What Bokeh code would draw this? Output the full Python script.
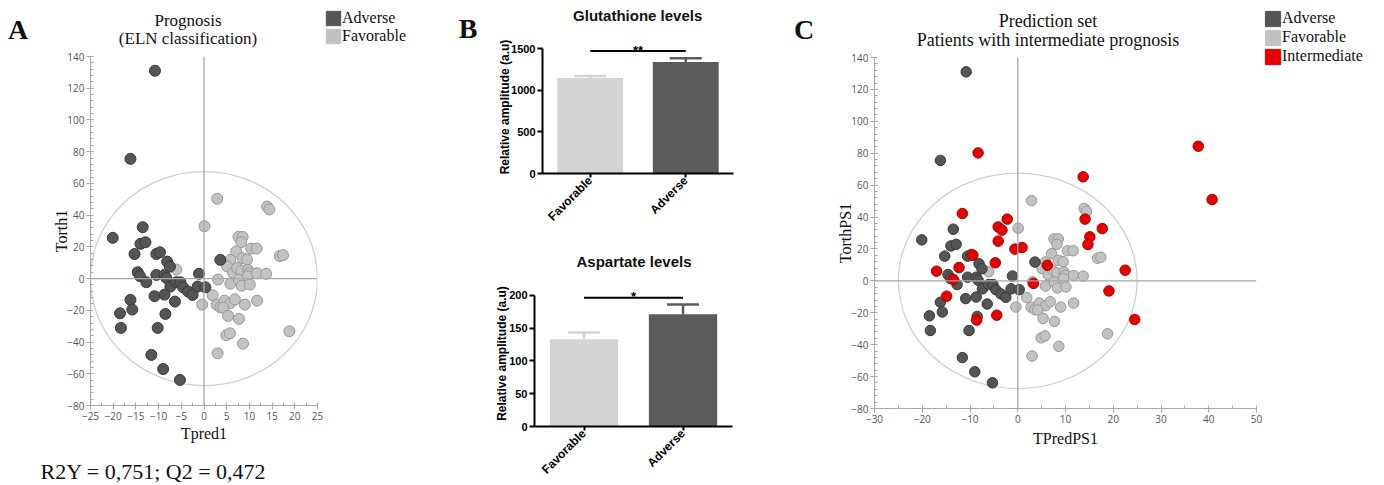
import math
from bokeh.plotting import figure
from bokeh.models import (ColumnDataSource, Span, Label, Legend, LegendItem,
                          SingleIntervalTicker, FixedTicker, Range1d, FactorRange)
from bokeh.layouts import row, column
from bokeh.embed import file_html
from bokeh.resources import INLINE
from bokeh.core.properties import value

# ---------------- data ----------------
# OPLS-DA scores (training set, shared by panels A and C)
adverse_x = [-20.1, -13.5, -14.0, -12.9, -15.3, -10.5, -9.7, -14.6, -14.1, -12.7,
             -10.5, -8.7, -8.3, -8.1, -7.5, -7.4, -6.1, -5.2, -4.6, -3.5,
             -2.5, -1.1, -1.4, 0.3, 3.6, -10.9, -8.7, -6.4, -16.2, -15.8,
             -18.5, -18.3, -10.2, -8.5, -11.6, -9.0, -5.3, -10.8, -16.2]
adverse_y = [25.7, 32.4, 21.9, 22.9, 15.5, 15.5, 16.6, 4.0, 1.5, -2.3,
             2.3, 2.3, 0.4, 10.7, 7.6, -5.0, -2.3, -2.3, -5.5, -8.2,
             -10.3, 3.0, -5.0, -5.5, 11.8, -11.1, -10.1, -14.5, -13.4, -19.5,
             -21.9, -31.1, -31.1, -22.3, -48.1, -57.0, -63.9, 131.0, 75.5]
favorable_x = [2.9, 0.1, 13.9, 14.4, 7.6, 8.5, 8.2, 7.1, 10.4, 11.6,
               16.7, 17.4, 5.8, 8.5, 9.5, 5.1, 6.4, 7.3, 8.2, 9.7,
               9.9, 9.6, 11.7, 13.7, 3.1, 5.8, 7.6, 8.3, 10.1, -6.1,
               1.9, -0.4, 2.8, 3.6, 4.5, 5.8, 6.8, 9.0, 11.7, 4.2,
               5.3, 7.7, 4.9, 5.7, 8.6, 3.0, 18.8]
favorable_y = [50.3, 33.0, 45.4, 43.6, 26.3, 26.3, 22.9, 17.1, 18.9, 18.9,
               14.2, 14.8, 11.8, 12.9, 12.0, 7.7, 3.7, 6.7, 5.0, 5.5,
               3.4, 1.5, 3.4, 3.0, -0.6, -3.2, -0.7, -4.5, -3.8, 5.7,
               -10.5, -16.4, -16.5, -18.1, -13.9, -15.6, -13.1, -16.4, -13.9, -18.3,
               -23.5, -25.4, -35.7, -34.5, -41.0, -47.1, -33.2]
# prediction set (intermediate prognosis)
intermediate_x = [-8.3, 13.7, 37.8, 40.7, -11.6, -2.2, -4.1, -3.3, -4.1, -0.6,
                  0.9, -9.4, -4.7, -12.3, -17.0, -13.5, -14.9, -4.4, -8.6, 6.2,
                  3.3, 14.1, 17.7, 15.1, 14.7, 22.5, 19.1, 24.5]
intermediate_y = [80.2, 65.2, 84.4, 51.0, 42.2, 38.7, 33.8, 31.8, 24.9, 19.9,
                  20.9, 16.1, 11.3, 8.4, 6.1, 0.9, -9.6, -21.5, -24.6, 9.8,
                  -1.6, 38.7, 32.8, 27.6, 22.8, 6.7, -6.3, -24.2]
# Hotelling T2 ellipse semi-axes
t2_semi_axes = [25.0, 67.5]

# metabolite levels
groups = ["Favorable", "Adverse"]
glut_mean = [1147, 1339]
glut_sem = [24, 45]
asp_mean = [133, 171]
asp_sem = [10, 15]
glut_ticks = [0, 500, 1000, 1500]
asp_ticks = [0, 50, 100, 150, 200]
glut_sig = ["**"]
asp_sig = ["*"]
glut_sig_level = [1470]
asp_sig_level = [196]

r2y_text = "R2Y = 0,751; Q2 = 0,472"

# ---------------- style ----------------
SERIF = "Liberation Serif"
SANS = "Liberation Sans"
TICKF = "Open Sans"
C_ADV, C_ADV_L = "#555555", "#3a3a3a"
C_FAV, C_FAV_L = "#c2c2c2", "#989898"
C_INT, C_INT_L = "#e60000", "#b00000"
BAR_COLORS = ["#d4d4d4", "#5b5b5b"]


def base_fig(width, height, left, right, top, bottom, **kw):
    p = figure(width=width, height=height, output_backend="svg", toolbar_location=None,
               tools="", title=None, min_border_left=left, min_border_right=right,
               min_border_top=top, min_border_bottom=bottom, frame_align=False, **kw)
    p.outline_line_color = None
    p.background_fill_color = "white"
    p.border_fill_color = "white"
    return p


def text_fig(w, h):
    # a figure whose frame is the whole canvas; data units equal pixels (y upwards)
    p = base_fig(w, h, 0, 0, 0, 0, x_range=Range1d(0, w), y_range=Range1d(0, h),
                 x_axis_type=None, y_axis_type=None)
    return p


def text_label(p, x, y, text, size, font=SERIF, style="normal", align="center"):
    # y is the wanted baseline; the rendered text sits ~0.36em lower than its anchor
    px = float(size.replace("px", ""))
    p.add_layout(Label(x=x, y=y + 0.36 * px, text=text, text_align=align,
                       text_baseline="alphabetic", text_font=font, text_font_style=style,
                       text_font_size=size, text_color="#111111"))


def square_legend(p, names, colors, loc, box):
    items = []
    for n, c in zip(names, colors):
        # legend swatch renderer, kept off-canvas
        r = p.rect(x=[-1000], y=[-1000], width=1, height=1, fill_color=c, line_color=c)
        items.append(LegendItem(label=n, renderers=[r]))
    leg = Legend(items=items, location=loc, orientation="vertical",
                 glyph_width=box, glyph_height=box, label_height=box, label_width=10,
                 label_standoff=0, spacing=0, padding=0, margin=0,
                 border_line_color=None, background_fill_alpha=0,
                 label_text_font=SERIF, label_text_font_size="16px",
                 label_text_color="#111111")
    p.add_layout(leg)


def score_fig(width, height, left, right, top, bottom, xr, x_interval, xlabel, ylabel,
              dot, xl_standoff, yl_standoff):
    p = base_fig(width, height, left, right, top, bottom,
                 x_range=Range1d(*xr), y_range=Range1d(-80, 140))
    p.xgrid.visible = False
    p.ygrid.visible = False
    p.xaxis.ticker = SingleIntervalTicker(interval=x_interval, num_minor_ticks=2)
    p.yaxis.ticker = SingleIntervalTicker(interval=20, num_minor_ticks=5)
    p.xaxis.axis_label = xlabel
    p.yaxis.axis_label = ylabel
    for ax in (p.xaxis[0], p.yaxis[0]):
        ax.axis_line_color = "#a8a8a8"
        ax.major_tick_line_color = "#a8a8a8"
        ax.minor_tick_line_color = "#a8a8a8"
        ax.major_tick_out = 4
        ax.major_tick_in = 0
        ax.minor_tick_out = 0
        ax.minor_tick_in = 3
        ax.major_label_text_font = TICKF
        ax.major_label_text_font_size = "10px"
        ax.major_label_text_color = "#555555"
        ax.major_label_standoff = 2
        ax.axis_label_text_font = SERIF
        ax.axis_label_text_font_size = "16px"
        ax.axis_label_text_font_style = "normal"
        ax.axis_label_text_color = "#111111"
    p.xaxis.axis_label_standoff = xl_standoff
    p.yaxis.axis_label_standoff = yl_standoff
    p.add_layout(Span(location=0, dimension="height", line_color="#a8a8a8", line_width=1.3))
    p.add_layout(Span(location=0, dimension="width", line_color="#a8a8a8", line_width=1.3))
    p.ellipse(x=[0], y=[0], width=[2 * t2_semi_axes[0]], height=[2 * t2_semi_axes[1]],
              fill_color=None, line_color="#cfcfcf", line_width=1.3)
    p.scatter(favorable_x, favorable_y, size=dot, fill_color=C_FAV, line_color=C_FAV_L)
    p.scatter(adverse_x, adverse_y, size=dot, fill_color=C_ADV, line_color=C_ADV_L)
    return p


def bar_fig(height, left, frame_w, frame_h, y_end, means, sems, ticks, sig, sig_level,
            yl_standoff):
    p = base_fig(300, height, left, 300 - left - frame_w, 0, height - frame_h,
                 x_range=FactorRange(*groups, range_padding=0), y_range=Range1d(0, y_end))
    p.xgrid.visible = False
    p.ygrid.visible = False
    src = ColumnDataSource(dict(g=groups, mean=means,
                                upper=[m + s for m, s in zip(means, sems)],
                                color=BAR_COLORS))
    p.vbar(x="g", top="mean", width=0.69, fill_color="color", line_color=None, source=src)
    p.segment(x0="g", y0="mean", x1="g", y1="upper", line_color="color", line_width=2.5,
              source=src)
    p.scatter(x="g", y="upper", marker="dash", size=32, line_color="color", line_width=2.5,
              source=src)
    p.segment(x0=[groups[0]], y0=sig_level, x1=[groups[1]], y1=sig_level,
              line_color="black", line_width=2)
    p.text(x=[1.0], y=sig_level, text=sig, text_align="center", text_baseline="alphabetic",
           y_offset=-1, text_font=value(SANS), text_font_style="bold", text_font_size="13px",
           text_color="black")
    yax = p.yaxis[0]
    xax = p.xaxis[0]
    yax.ticker = FixedTicker(ticks=ticks)
    yax.bounds = (0, ticks[-1])
    for ax in (xax, yax):
        ax.axis_line_width = 2
        ax.axis_line_color = "black"
        ax.major_tick_line_width = 2
        ax.major_tick_line_color = "black"
        ax.major_tick_out = 5
        ax.major_tick_in = 0
        ax.minor_tick_line_color = None
        ax.major_label_text_font = SANS
        ax.major_label_text_font_style = "bold"
        ax.major_label_text_font_size = "11px"
        ax.major_label_text_color = "black"
        ax.major_label_standoff = 2
    xax.major_label_orientation = math.pi / 4
    xax.major_label_text_font_size = "12px"
    xax.major_label_standoff = 1
    xax.major_tick_out = 4
    yax.axis_label = "Relative amplitude (a.u)"
    yax.axis_label_text_font = SANS
    yax.axis_label_text_font_style = "bold"
    yax.axis_label_text_font_size = "12px"
    yax.axis_label_text_color = "black"
    yax.axis_label_standoff = yl_standoff
    return p


# ---------------- panel A (x 0-480) ----------------
hdr_a = text_fig(480, 48)
text_label(hdr_a, 17.5, 8.7, "A", "28px", style="bold")
text_label(hdr_a, 187.5, 22, "Prognosis", "17px")
text_label(hdr_a, 187.5, 4, "(ELN classification)", "17px")
square_legend(hdr_a, ["Adverse", "Favorable"], [C_ADV, C_FAV], (324, 3), 18)
text_label(hdr_a, 467.5, 9.7, "B", "28px", style="bold")

plot_a = score_fig(480, 402, 90, 163, 8, 45, (-25, 25), 5, "Tpred1", "Torth1", 11, 2, -6)

ftr_a = text_fig(480, 34)
text_label(ftr_a, 40, 5, r2y_text, "22px", align="left")

col_a = column(hdr_a, plot_a, ftr_a)

# ---------------- panel B (x 480-780) ----------------
hdr_b1 = text_fig(300, 40)
text_label(hdr_b1, 157.2, 19.5, "Glutathione levels", "15px", font=SANS, style="bold")
plot_b1 = bar_fig(191, 62, 191, 133, 1596, glut_mean, glut_sem, glut_ticks, glut_sig,
                  glut_sig_level, -4)
hdr_b2 = text_fig(300, 49)
text_label(hdr_b2, 153.5, 13.5, "Aspartate levels", "15px", font=SANS, style="bold")
plot_b2 = bar_fig(204, 54, 198, 146, 222.4, asp_mean, asp_sem, asp_ticks, asp_sig,
                  asp_sig_level, -3)
col_b = column(hdr_b1, plot_b1, hdr_b2, plot_b2)

# ---------------- panel C (x 780-1383) ----------------
hdr_c = text_fig(483, 50)
text_label(hdr_c, 23.5, 10.7, "C", "28px", style="bold")
text_label(hdr_c, 267.5, 23.3, "Prediction set", "18px")
text_label(hdr_c, 267.5, 4.5, "Patients with intermediate prognosis", "18px")

plot_c = score_fig(483, 434, 94, 7, 7, 76, (-30, 50), 10, "TPredPS1", "TorthPS1", 10.5, 4, -6)
plot_c.scatter(intermediate_x, intermediate_y, size=10.5, fill_color=C_INT, line_color=C_INT_L)

leg_c = text_fig(120, 484)
square_legend(leg_c, ["Adverse", "Favorable", "Intermediate"], [C_ADV, C_FAV, C_INT],
              (0, 418.5), 19)

col_c = row(column(hdr_c, plot_c), leg_c)

layout = row(col_a, col_b, col_c)

with open("out.html", "w") as f:
    f.write(file_html(layout, INLINE))
